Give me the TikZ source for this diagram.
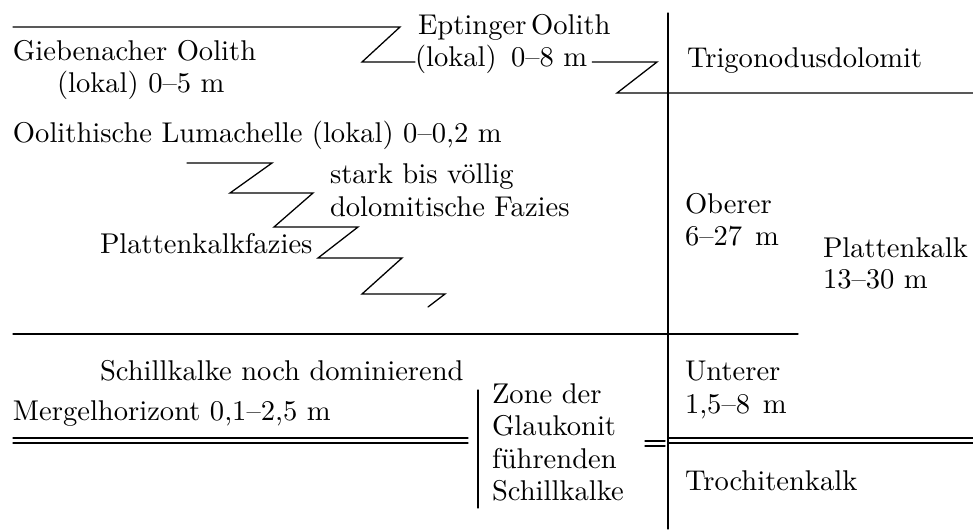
\documentclass[tikz,border=0pt]{standalone}
\begin{document}
\begin{tikzpicture}[x=0.35pt,y=-0.35pt,
  lbl/.style={inner sep=0pt,outer sep=0pt,anchor=base west},
  ln/.style={line width=0.45pt,line cap=round,line join=miter}]
\useasboundingbox (0,0) rectangle (973,529);
% texts
\node[lbl] (ept1) at (418,35) {Eptinger\,Oolith};
\node[lbl] (ept2) at (415,67) {(lokal)\hspace{5pt}0--8 m};
\node[lbl] (gieb1) at (13,61) {Giebenacher Oolith};
\node[lbl] (gieb2) at (57,93) {(lokal) 0--5 m};
\node[lbl] (trig) at (687,68) {Trigonodusdolomit};
\node[lbl] (lum) at (13,142) {Oolithische Lumachelle (lokal) 0--0,2 m};
\node[lbl] (stark1) at (330,183) {stark bis v\"ollig};
\node[lbl] (stark2) at (330,216) {dolomitische Fazies};
\node[lbl] (pkf) at (100,253) {Plattenkalkfazies};
\node[lbl] (ob1) at (685,213) {Oberer};
\node[lbl] (ob2) at (685,245) {6--27\hspace{4.5pt}m};
\node[lbl] (pk1) at (823,257) {Plattenkalk};
\node[lbl] (pk2) at (823,288) {13--30 m};
\node[lbl] (schill) at (100,380) {Schillkalke noch dominierend};
\node[lbl] (merg) at (13,420) {Mergelhorizont 0,1--2,5 m};
\node[lbl] (z1) at (492,403) {Zone der};
\node[lbl] (z2) at (492,435) {Glaukonit};
\node[lbl] (z3) at (492,468) {f\"uhrenden};
\node[lbl] (z4) at (492,500) {Schillkalke};
\node[lbl] (unt1) at (685,380) {Unterer};
\node[lbl] (unt2) at (685,413) {1,5--8\hspace{4.5pt}m};
\node[lbl] (troch) at (685,490) {Trochitenkalk};
% main vertical line
\coordinate (vtop) at (668,13);
\coordinate (vbot) at (668,529);
\draw[ln] (vtop) -- (vbot);
% top boundary with Eptinger Oolith wedge
\coordinate (t0) at (13,27);
\coordinate (t1) at (400,27);
\coordinate (t2) at (362,62);
\draw[ln] (t0) -- (t1) -- (t2) -- (ept2.west |- t2);
\coordinate (e1) at (657,62);
\coordinate (e2) at (617,93);
\coordinate (e3) at (973,93);
\draw[ln] (ept2.east |- e1) ++(5,0) -- (e1) -- (e2) -- (e3);
% zigzag facies boundary
\draw[ln] (187,163) -- (272,163) -- (230,193) -- (313,193) -- (274,227)
  -- (358,227) -- (318,258) -- (402,258) -- (362,294) -- (445,294) -- (428,307);
% boundary Oberer/Unterer
\draw[ln] (13,334) -- (798,334);
% double lines
\draw[ln] (13,438) -- (468,438);
\draw[ln] (13,443) -- (468,443);
\draw[ln] (645,441) -- (665,441);
\draw[ln] (645,446) -- (665,446);
\draw[ln] (668,438) -- (973,438);
\draw[ln] (668,443) -- (973,443);
% small vertical for Zone der Glaukonit
\draw[ln] (478,390) -- (478,508);
\end{tikzpicture}
\end{document}
